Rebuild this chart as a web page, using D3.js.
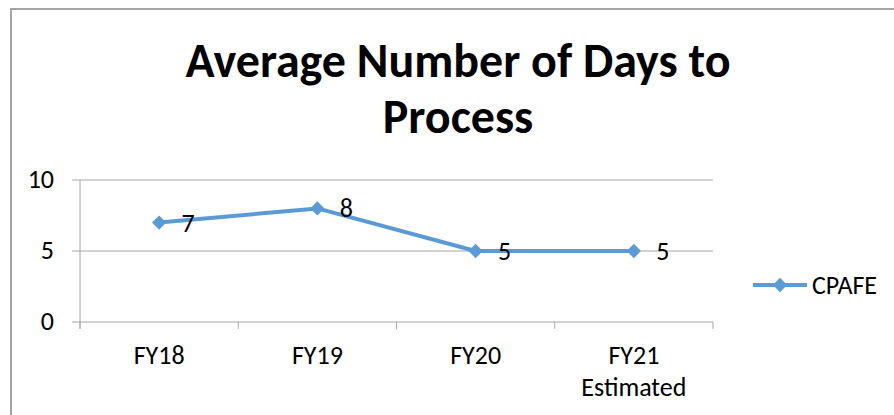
<!DOCTYPE html>
<html>
<head>
<meta charset="utf-8">
<script src="https://cdn.jsdelivr.net/npm/d3@7"></script>
<style>
  body { margin: 0; background: #fff; }
  text { font-family: Carlito, Lato, "Open Sans", sans-serif; fill: #000; }
</style>
</head>
<body>
<div id="chart"></div>
<script>
const categories = [['FY18'], ['FY19'], ['FY20'], ['FY21', 'Estimated']];
const values = [7, 8, 5, 5];
const yTicks = [0, 5, 10];
const seriesName = 'CPAFE';
const titleLines = ['Average Number of Days to', 'Process'];

const width = 894, height = 415;
const margin = { top: 180, right: 181, bottom: 93, left: 80 };
const color = '#5b9bd5';

const svg = d3.select('#chart').append('svg')
  .attr('width', width)
  .attr('height', height);

// chart border
svg.append('rect')
  .attr('x', 11).attr('y', 9)
  .attr('width', width + 20).attr('height', height + 20)
  .attr('fill', 'none')
  .attr('stroke', '#a6a6a6')
  .attr('stroke-width', 2);

// title
svg.append('text')
  .attr('text-anchor', 'middle')
  .attr('font-weight', 'bold')
  .attr('font-size', 48)
  .selectAll('tspan')
  .data(titleLines)
  .enter()
  .append('tspan')
  .attr('x', 458)
  .attr('y', (d, i) => 77 + i * 56)
  .text(d => d);

const keys = categories.map(c => c.join(' '));

const xScale = d3.scaleBand()
  .domain(keys)
  .range([margin.left, width - margin.right]);

const yScale = d3.scaleLinear()
  .domain([0, 10])
  .range([height - margin.bottom, margin.top]);

// gridlines
svg.append('g')
  .selectAll('line')
  .data(yTicks)
  .enter()
  .append('line')
  .attr('x1', margin.left - 8)
  .attr('x2', width - margin.right)
  .attr('y1', d => yScale(d))
  .attr('y2', d => yScale(d))
  .attr('stroke', '#a6a6a6')
  .attr('stroke-width', 1);

// y axis
svg.append('line')
  .attr('x1', margin.left).attr('x2', margin.left)
  .attr('y1', margin.top).attr('y2', yScale(0) + 7)
  .attr('stroke', '#a6a6a6');

// y labels
svg.append('g')
  .selectAll('text')
  .data(yTicks)
  .enter()
  .append('text')
  .attr('x', 54)
  .attr('y', d => yScale(d) + 8)
  .attr('text-anchor', 'end')
  .attr('font-size', 26)
  .text(d => d);

// x axis tick marks at band boundaries
const boundaries = keys.map(k => xScale(k)).concat([width - margin.right]);
svg.append('g')
  .selectAll('line')
  .data(boundaries)
  .enter()
  .append('line')
  .attr('x1', d => d).attr('x2', d => d)
  .attr('y1', yScale(0)).attr('y2', yScale(0) + 7)
  .attr('stroke', '#a6a6a6');

// x labels
svg.append('g')
  .selectAll('text')
  .data(categories)
  .enter()
  .append('text')
  .attr('text-anchor', 'middle')
  .attr('font-size', 26)
  .each(function (d, i) {
    d3.select(this).selectAll('tspan')
      .data(d)
      .enter()
      .append('tspan')
      .attr('x', xScale(keys[i]) + xScale.bandwidth() / 2)
      .attr('y', (t, j) => 364 + j * 32)
      .text(t => t);
  });

const cx = (d, i) => xScale(keys[i]) + xScale.bandwidth() / 2;

// series line
const line = d3.line()
  .x((d, i) => cx(d, i))
  .y(d => yScale(d));

svg.append('path')
  .datum(values)
  .attr('d', line)
  .attr('fill', 'none')
  .attr('stroke', color)
  .attr('stroke-width', 4)
  .attr('stroke-linejoin', 'round');

const diamond = d3.symbol().type(d3.symbolDiamond2).size(130);

svg.append('g')
  .selectAll('path')
  .data(values)
  .enter()
  .append('path')
  .attr('d', diamond)
  .attr('transform', (d, i) => `translate(${cx(d, i)},${yScale(d)})`)
  .attr('fill', color);

// data labels
svg.append('g')
  .selectAll('text')
  .data(values)
  .enter()
  .append('text')
  .attr('x', (d, i) => cx(d, i) + 29)
  .attr('y', d => yScale(d) + 9)
  .attr('text-anchor', 'middle')
  .attr('font-size', 26)
  .text(d => d);

// legend
const legend = svg.append('g').attr('transform', 'translate(753,285)');
legend.append('line')
  .attr('x1', 0).attr('x2', 54)
  .attr('stroke', color)
  .attr('stroke-width', 4);
legend.append('path')
  .attr('d', diamond)
  .attr('transform', 'translate(27,0)')
  .attr('fill', color);
legend.append('text')
  .attr('x', 59)
  .attr('y', 9)
  .attr('font-size', 26)
  .text(seriesName);
</script>
</body>
</html>
